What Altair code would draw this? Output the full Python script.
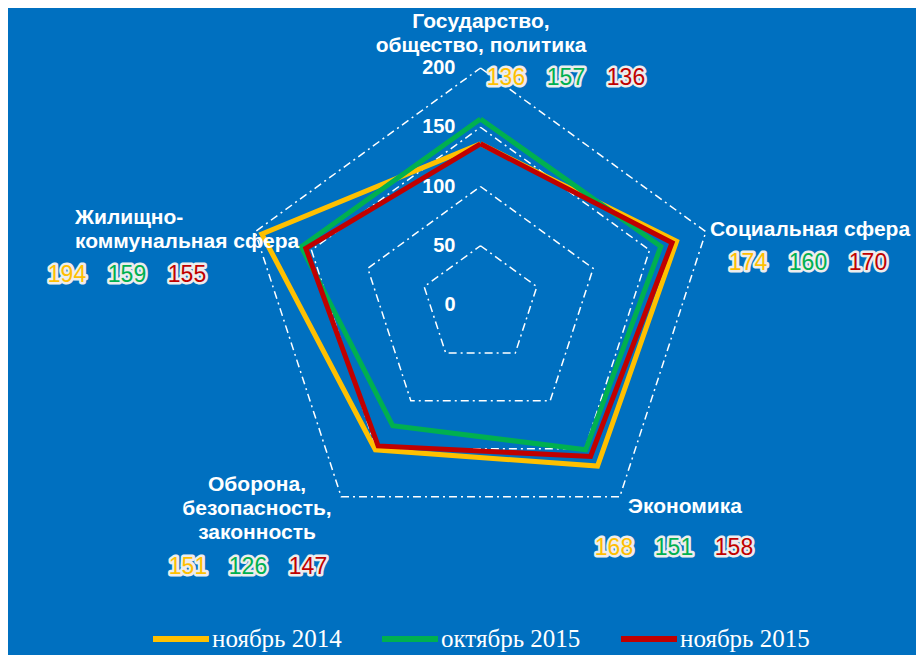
import math
import altair as alt
import pandas as pd

# ---------------- data ----------------
categories = [
    "Государство,\nобщество, политика",
    "Социальная сфера",
    "Экономика",
    "Оборона,\nбезопасность,\nзаконность",
    "Жилищно-\nкоммунальная сфера",
]
series = ["ноябрь 2014", "октябрь 2015", "ноябрь 2015"]
v_nov14 = [136, 174, 168, 151, 194]
v_oct15 = [157, 160, 151, 126, 159]
v_nov15 = [136, 170, 158, 147, 155]
grid_levels = [50, 100, 150, 200]
tick_values = [0, 50, 100, 150, 200]

# ---------------- styles / layout ----------------
colors = ["#FFC000", "#00B050", "#C00000"]
BG = "#0070C0"
W, H = 908, 647
CX, CY = 472.5, 297        # radar centre in plot pixels
PXU = 1.185                # pixels per value unit

def ux(px):   # image px -> radar units
    return (px - 8 - CX) / PXU

def uy(py):
    return (CY - (py - 8)) / PXU

xdom = [-CX / PXU, (W - CX) / PXU]
ydom = [-(H - CY) / PXU, CY / PXU]

# category label anchors (image px, first line) and alignment
cat_layout = [
    (481, 22, "center"),
    (810, 230, "center"),
    (685, 507, "center"),
    (257, 485, "center"),
    (75, 218, "left"),
]
# value label rows (image px, centre of middle value)
val_layout = [(566, 78), (808, 263), (674, 548), (248, 567), (127, 275)]
VAL_SPACING = 60

n = len(categories)
values = [v_nov14, v_oct15, v_nov15]

rows = []
for s, vals in zip(series, values):
    for i in range(n + 1):
        k = i % n
        rows.append({"series": s, "idx": i, "k": k, "value": vals[k]})
df_series = pd.DataFrame(rows)

grows = []
for lv in grid_levels:
    for i in range(n + 1):
        grows.append({"level": lv, "idx": i, "k": i % n, "value": lv})
df_grid = pd.DataFrame(grows)

df_ticks = pd.DataFrame({"t": tick_values, "x": [0] * len(tick_values), "y": tick_values})

crow = []
for c, (px, py, al) in zip(categories, cat_layout):
    crow.append({"label": c, "x": ux(px), "y": uy(py), "align": al})
df_cat = pd.DataFrame(crow)

vrow = []
for k in range(n):
    px, py = val_layout[k]
    for j, s in enumerate(series):
        vrow.append({"series": s, "label": str(values[j][k]),
                     "x": ux(px + (j - 1) * VAL_SPACING), "y": uy(py)})
df_val = pd.DataFrame(vrow)

xs = alt.Scale(domain=xdom, nice=False, zero=False)
ys = alt.Scale(domain=ydom, nice=False, zero=False)

grid = alt.Chart(df_grid).transform_calculate(
    x="datum.value*sin(2*PI*datum.k/5)",
    y="datum.value*cos(2*PI*datum.k/5)",
).mark_line(color="white", strokeWidth=1.5, strokeDash=[8, 4, 2, 4]).encode(
    x=alt.X("x:Q", scale=xs, axis=None),
    y=alt.Y("y:Q", scale=ys, axis=None),
    detail="level:N",
    order="idx:Q",
)

lines = alt.Chart(df_series).transform_calculate(
    x="datum.value*sin(2*PI*datum.k/5)",
    y="datum.value*cos(2*PI*datum.k/5)",
).mark_line(strokeWidth=5, strokeJoin="miter").encode(
    x=alt.X("x:Q", scale=xs, axis=None),
    y=alt.Y("y:Q", scale=ys, axis=None),
    color=alt.Color(
        "series:N",
        scale=alt.Scale(domain=series, range=colors),
        sort=series,
        legend=alt.Legend(
            orient="none", legendX=142, legendY=600, direction="horizontal",
            title=None, symbolType="stroke", symbolStrokeWidth=6,
            symbolSize=56 * 56, labelFont="Liberation Serif", labelFontSize=25,
            labelColor="white", columnPadding=28, labelOffset=0, labelLimit=500,
            padding=0, symbolOpacity=1,
        ),
    ),
    order="idx:Q",
)

ticks = alt.Chart(df_ticks).mark_text(
    align="right", baseline="middle", dx=-25, font="Liberation Sans",
    fontSize=20, fontWeight="bold", color="white",
).encode(
    x=alt.X("x:Q", scale=xs, axis=None),
    y=alt.Y("y:Q", scale=ys, axis=None),
    text="t:N",
)

cat_center = alt.Chart(df_cat[df_cat["align"] == "center"]).mark_text(
    align="center", baseline="middle", lineBreak="\n", lineHeight=24,
    font="Liberation Sans", fontSize=21, fontWeight="bold", color="white",
).encode(
    x=alt.X("x:Q", scale=xs, axis=None),
    y=alt.Y("y:Q", scale=ys, axis=None),
    text="label:N",
)
cat_left = alt.Chart(df_cat[df_cat["align"] == "left"]).mark_text(
    align="left", baseline="middle", lineBreak="\n", lineHeight=24,
    font="Liberation Sans", fontSize=21, fontWeight="bold", color="white",
).encode(
    x=alt.X("x:Q", scale=xs, axis=None),
    y=alt.Y("y:Q", scale=ys, axis=None),
    text="label:N",
)

val_outline = alt.Chart(df_val).mark_text(
    align="center", baseline="middle", font="Liberation Sans", fontSize=23,
    fill="#EDEDED", stroke="#EDEDED", strokeWidth=5, strokeJoin="round",
).encode(
    x=alt.X("x:Q", scale=xs, axis=None),
    y=alt.Y("y:Q", scale=ys, axis=None),
    text="label:N",
)
val_fill = alt.Chart(df_val).mark_text(
    align="center", baseline="middle", font="Liberation Sans", fontSize=23,
).encode(
    x=alt.X("x:Q", scale=xs, axis=None),
    y=alt.Y("y:Q", scale=ys, axis=None),
    text="label:N",
    color=alt.Color("series:N", scale=alt.Scale(domain=series, range=colors), legend=None),
)

chart = alt.layer(
    grid, lines, ticks, cat_center, cat_left, val_outline, val_fill
).resolve_scale(color="independent").properties(
    width=W, height=H, background=BG,
    autosize=alt.AutoSizeParams(type="none"), padding=0,
).configure_view(stroke=None)

chart.save("out.html", embed_options={"renderer": "svg", "actions": False})
